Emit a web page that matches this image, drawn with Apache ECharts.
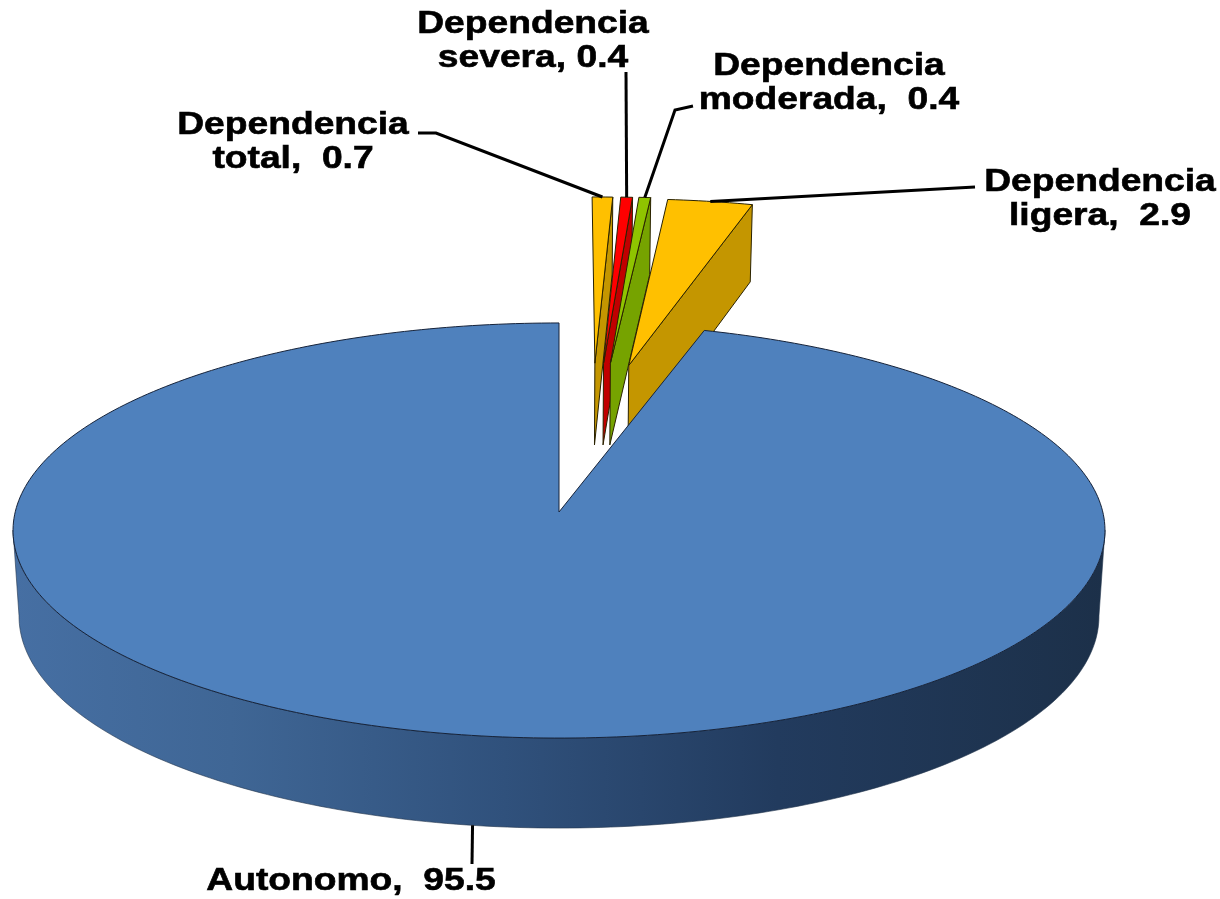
<!DOCTYPE html>
<html>
<head>
<meta charset="utf-8">
<script src="https://cdn.jsdelivr.net/npm/echarts@6/dist/echarts.min.js"></script>
<style>
html,body{margin:0;padding:0;background:#fff}
#chart{width:1220px;height:899px}
</style>
</head>
<body>
<div id="chart"></div>
<script>
// valores de la grafica
var categories = ['Dependencia total','Dependencia severa','Dependencia moderada','Dependencia ligera','Autonomo']
var values = [0.7,0.4,0.4,2.9,95.5]

// textos de las etiquetas (como en el original, con doble espacio en algunas)
var labelLines = [
    ['Dependencia','total,  0.7'],
    ['Dependencia','severa, 0.4'],
    ['Dependencia','moderada,  0.4'],
    ['Dependencia','ligera,  2.9'],
    ['Autonomo,  95.5']
]

// estilo y posicion de cada porcion, aparte de los datos
var topColors = ['#ffc000','#ff0000','#8fc400','#ffc000','#4f81bd']
var sideColors = ['#c49600','#c00000','#76a300','#c49600',null]
var explodeX = [0.0705,0.0875,0.101,0.137,0]
var explodeY = [0.772,0.772,0.772,0.76,0]
var labelPos = [[293,142],[533,41],[829,83],[1100,199],[351,881]]
var elbows = [[[436,133],[418,133]],[[626,72]],[[675,110],[693,106]],[[975,187]],[[472,864]]]
var autonomoGap = 1 // grados

// perspectiva del plato
var cx = 559, cy = 512, A = 543.8, B = 205.9, P = 0.0892

function project(u,v,bottom){
    var w = 1+P*v
    var x = A*u/w, y = -B*v/w
    if(bottom){
        x = x*0.989
        y = y+85.3-4.7*v
    }
    return [cx+x,cy+y]
}
function ringPoint(deg,i,bottom){
    var a = deg*Math.PI/180
    return project(explodeX[i]+Math.sin(a),explodeY[i]+Math.cos(a),bottom)
}
function arcPoints(from,to,i,bottom){
    var pts = [], n = Math.max(2,Math.ceil(Math.abs(to-from)))
    for(var k=0;k<=n;k++) pts.push(ringPoint(from+(to-from)*k/n,i,bottom))
    return pts
}

var total = values.reduce(function(s,d){return s+d},0)
var angles = []
var acc = 0
values.forEach(function(d){
    angles.push([acc/total*360,(acc+d)/total*360])
    acc += d
})
angles[4][0] += autonomoGap

function poly(pts,fill,stroke,width){
    return {type:'polygon',shape:{points:pts},style:{fill:fill,stroke:stroke,lineWidth:width}}
}

function renderSlice(params,api){
    var i = params.dataIndex
    var a1 = angles[i][0], a2 = angles[i][1]
    var children = []
    var apex = project(explodeX[i],explodeY[i],false)
    var mid = (a1+a2)/2
    var anchor
    if(i==4){
        // cara lateral del plato con degradado
        var top = arcPoints(95,265,i,false), low = arcPoints(265,95,i,true)
        children.push(poly(top.concat(low),new echarts.graphic.LinearGradient(0,0,1,0,[
            {offset:0,color:'#466fa3'},
            {offset:0.2,color:'#3f6695'},
            {offset:0.45,color:'#30517c'},
            {offset:0.7,color:'#223b5e'},
            {offset:1,color:'#1c3049'}
        ]),'#22344c',0.6))
        children.push(poly([apex].concat(arcPoints(a1,a2,i,false)),topColors[i],'#16233a',1))
        anchor = ringPoint(mid,i,true)
    }else{
        // cara radial visible a la derecha
        var p2 = ringPoint(a2,i,false), p2b = ringPoint(a2,i,true)
        children.push(poly([apex,p2,p2b,project(explodeX[i],explodeY[i],true)],sideColors[i],'#2a2200',1))
        children.push(poly([apex].concat(arcPoints(a1,a2,i,false)),topColors[i],'#2a2200',1))
        anchor = ringPoint(mid,i,false)
    }
    // linea guia
    children.push({type:'polyline',shape:{points:[anchor].concat(elbows[i])},
        style:{fill:null,stroke:'#000',lineWidth:3}})
    // etiqueta
    children.push({type:'text',x:labelPos[i][0],y:labelPos[i][1],scaleX:1.2,
        style:{text:labelLines[i].join('\n'),fill:'#000',stroke:'#000',lineWidth:0.6,align:'center',verticalAlign:'middle',
            font:'bold 31px "Liberation Sans", Arial, sans-serif',lineHeight:34}})
    return {type:'group',children:children}
}

var chart = echarts.init(document.getElementById('chart'),null,{renderer:'canvas'})
chart.setOption({
    animation:false,
    backgroundColor:'#fff',
    tooltip:{show:false},
    series:[{
        type:'custom',
        coordinateSystem:'none',
        renderItem:renderSlice,
        data:values.map(function(d,i){return {name:categories[i],value:d}})
    }]
})
</script>
</body>
</html>
